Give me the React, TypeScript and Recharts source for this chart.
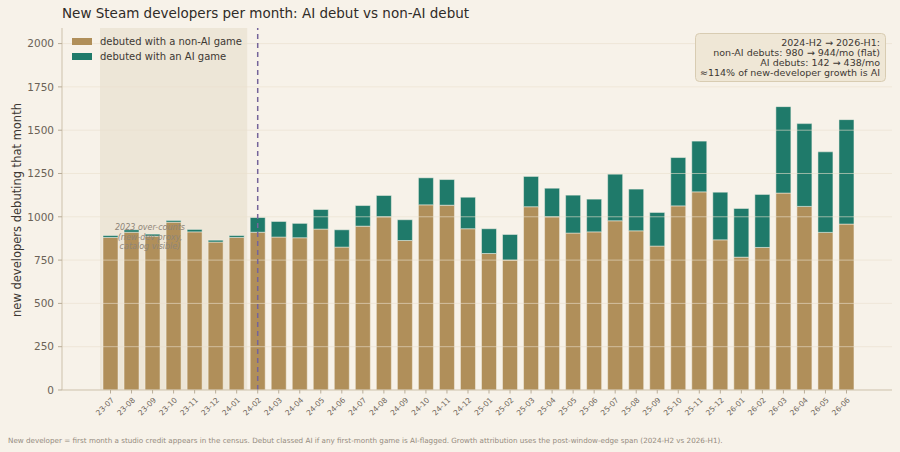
import {
  BarChart,
  Bar,
  XAxis,
  YAxis,
  ReferenceArea,
  ReferenceLine,
  Legend,
} from "recharts";

const months = [
  "23-07", "23-08", "23-09", "23-10", "23-11", "23-12",
  "24-01", "24-02", "24-03", "24-04", "24-05", "24-06",
  "24-07", "24-08", "24-09", "24-10", "24-11", "24-12",
  "25-01", "25-02", "25-03", "25-04", "25-05", "25-06",
  "25-07", "25-08", "25-09", "25-10", "25-11", "25-12",
  "26-01", "26-02", "26-03", "26-04", "26-05", "26-06",
];

// debuted with a non-AI game
const nonAiDebuts = [
  881, 911, 888, 969, 913, 854,
  881, 911, 883, 879, 929, 825,
  946, 1000, 863, 1069, 1067, 931,
  788, 750, 1058, 1000, 906, 913,
  977, 919, 831, 1063, 1144, 867,
  767, 823, 1137, 1060, 910, 958,
];

// debuted with an AI game
const aiDebuts = [
  11, 14, 12, 10, 14, 11,
  11, 85, 90, 83, 113, 100,
  119, 123, 120, 156, 148, 182,
  143, 148, 175, 165, 219, 189,
  269, 241, 194, 279, 293, 275,
  281, 306, 499, 478, 465, 603,
];

const yTicks = [0, 250, 500, 750, 1000, 1250, 1500, 1750, 2000];

const noteLines = [
  "2024-H2 \u2192 2026-H1:",
  "non-AI debuts: 980 \u2192 944/mo (flat)",
  "AI debuts: 142 \u2192 438/mo",
  "\u2248114% of new-developer growth is AI",
];

const shadeLines = ["2023 over-counts", "(new-dev proxy,", "catalog visible)"];

const data = months.map((month, i) => ({
  month,
  nonAi: nonAiDebuts[i],
  ai: aiDebuts[i],
}));

const BG = "#f7f2e9";
const TAN = "#b08f5a";
const TEAL = "#1f7a6a";
const FONT = "'DejaVu Sans', sans-serif";

function MonthTick({ x, y, payload }: any) {
  return (
    <g transform={`translate(${x + 4},${y + 5})`}>
      <text
        x={0}
        y={0}
        transform="rotate(-45)"
        textAnchor="end"
        fontSize={7.5}
        fill="#6f665a"
        fontFamily={FONT}
      >
        {payload.value}
      </text>
    </g>
  );
}

function LegendBox() {
  const items = [
    { label: "debuted with a non-AI game", color: TAN },
    { label: "debuted with an AI game", color: TEAL },
  ];
  return (
    <div style={{ fontFamily: FONT, fontSize: 10, color: "#3d3833" }}>
      {items.map((it) => (
        <div key={it.label} style={{ display: "flex", alignItems: "center", height: 15 }}>
          <span
            style={{
              display: "inline-block",
              width: 20,
              height: 7,
              background: it.color,
              marginRight: 8,
            }}
          />
          {it.label}
        </div>
      ))}
    </div>
  );
}

function YLabel() {
  return (
    <text
      transform="translate(17,210) rotate(-90)"
      textAnchor="middle"
      dominantBaseline="middle"
      fontSize={11.5}
      fill="#3d3833"
      fontFamily={FONT}
    >
      new developers debuting that month
    </text>
  );
}

export default function App() {
  return (
    <div
      style={{
        position: "absolute",
        left: 0,
        top: 0,
        width: 900,
        height: 452,
        background: BG,
        overflow: "hidden",
      }}
    >
      <BarChart
        width={900}
        height={452}
        data={data}
        margin={{ top: 28, right: 8, bottom: 0, left: 0 }}
      >
        <ReferenceArea x1="23-07" x2="24-01" fill="#ede6d7" fillOpacity={1} stroke="none" />
        <XAxis
          dataKey="month"
          height={62}
          interval={0}
          padding={{ left: 38, right: 35 }}
          tick={<MonthTick />}
          tickSize={3.5}
          tickLine={{ stroke: "#b9ad98" }}
          axisLine={{ stroke: "#cdc1ab" }}
        />
        <YAxis
          width={62}
          domain={[0, 2090]}
          ticks={yTicks}
          tickSize={4}
          tickMargin={4}
          tick={{ fontSize: 10.5, fill: "#6b6256", fontFamily: FONT }}
          tickLine={{ stroke: "#b9ad98" }}
          axisLine={{ stroke: "#cdc1ab" }}
          label={<YLabel />}
        />
        <Legend
          layout="vertical"
          align="center"
          verticalAlign="middle"
          wrapperStyle={{ top: 34, left: 72, width: 200 }}
          content={<LegendBox />}
        />
        <Bar
          dataKey="nonAi"
          stackId="a"
          fill={TAN}
          barSize={15}
          stroke={BG}
          strokeWidth={0.5}
          isAnimationActive={false}
        />
        <Bar
          dataKey="ai"
          stackId="a"
          fill={TEAL}
          barSize={15}
          stroke={BG}
          strokeWidth={0.5}
          isAnimationActive={false}
        />
        {yTicks.slice(1).map((t) => (
          <ReferenceLine key={t} y={t} stroke="#e9dfcd" strokeOpacity={0.6} strokeWidth={1} />
        ))}
        <ReferenceLine
          x="24-02"
          stroke="#75649a"
          strokeWidth={1.5}
          strokeDasharray="5 4"
        />
      </BarChart>
      <svg
        width={900}
        height={452}
        style={{ position: "absolute", left: 0, top: 0, pointerEvents: "none" }}
        fontFamily={FONT}
      >
        <text x={62} y={18} fontSize={13.5} fill="#2f2b27">
          New Steam developers per month: AI debut vs non-AI debut
        </text>
        <rect
          x={695.5}
          y={33.5}
          width={190}
          height={48}
          rx={4}
          fill="#efe7d6"
          stroke="#d8ccb2"
        />
        {noteLines.map((line, i) => (
          <text key={line} x={880} y={46 + i * 10} fontSize={9.5} fill="#3d3833" textAnchor="end">
            {line}
          </text>
        ))}
        {shadeLines.map((line, i) => (
          <text
            key={line}
            x={150}
            y={230 + i * 9.5}
            fontSize={8}
            fontStyle="italic"
            fill="#8f8577"
            textAnchor="middle"
          >
            {line}
          </text>
        ))}
        <text x={8} y={443} fontSize={7.2} fill="#958b7e">
          New developer = first month a studio credit appears in the census. Debut classed AI if
          any first-month game is AI-flagged. Growth attribution uses the post-window-edge span
          (2024-H2 vs 2026-H1).
        </text>
      </svg>
    </div>
  );
}
